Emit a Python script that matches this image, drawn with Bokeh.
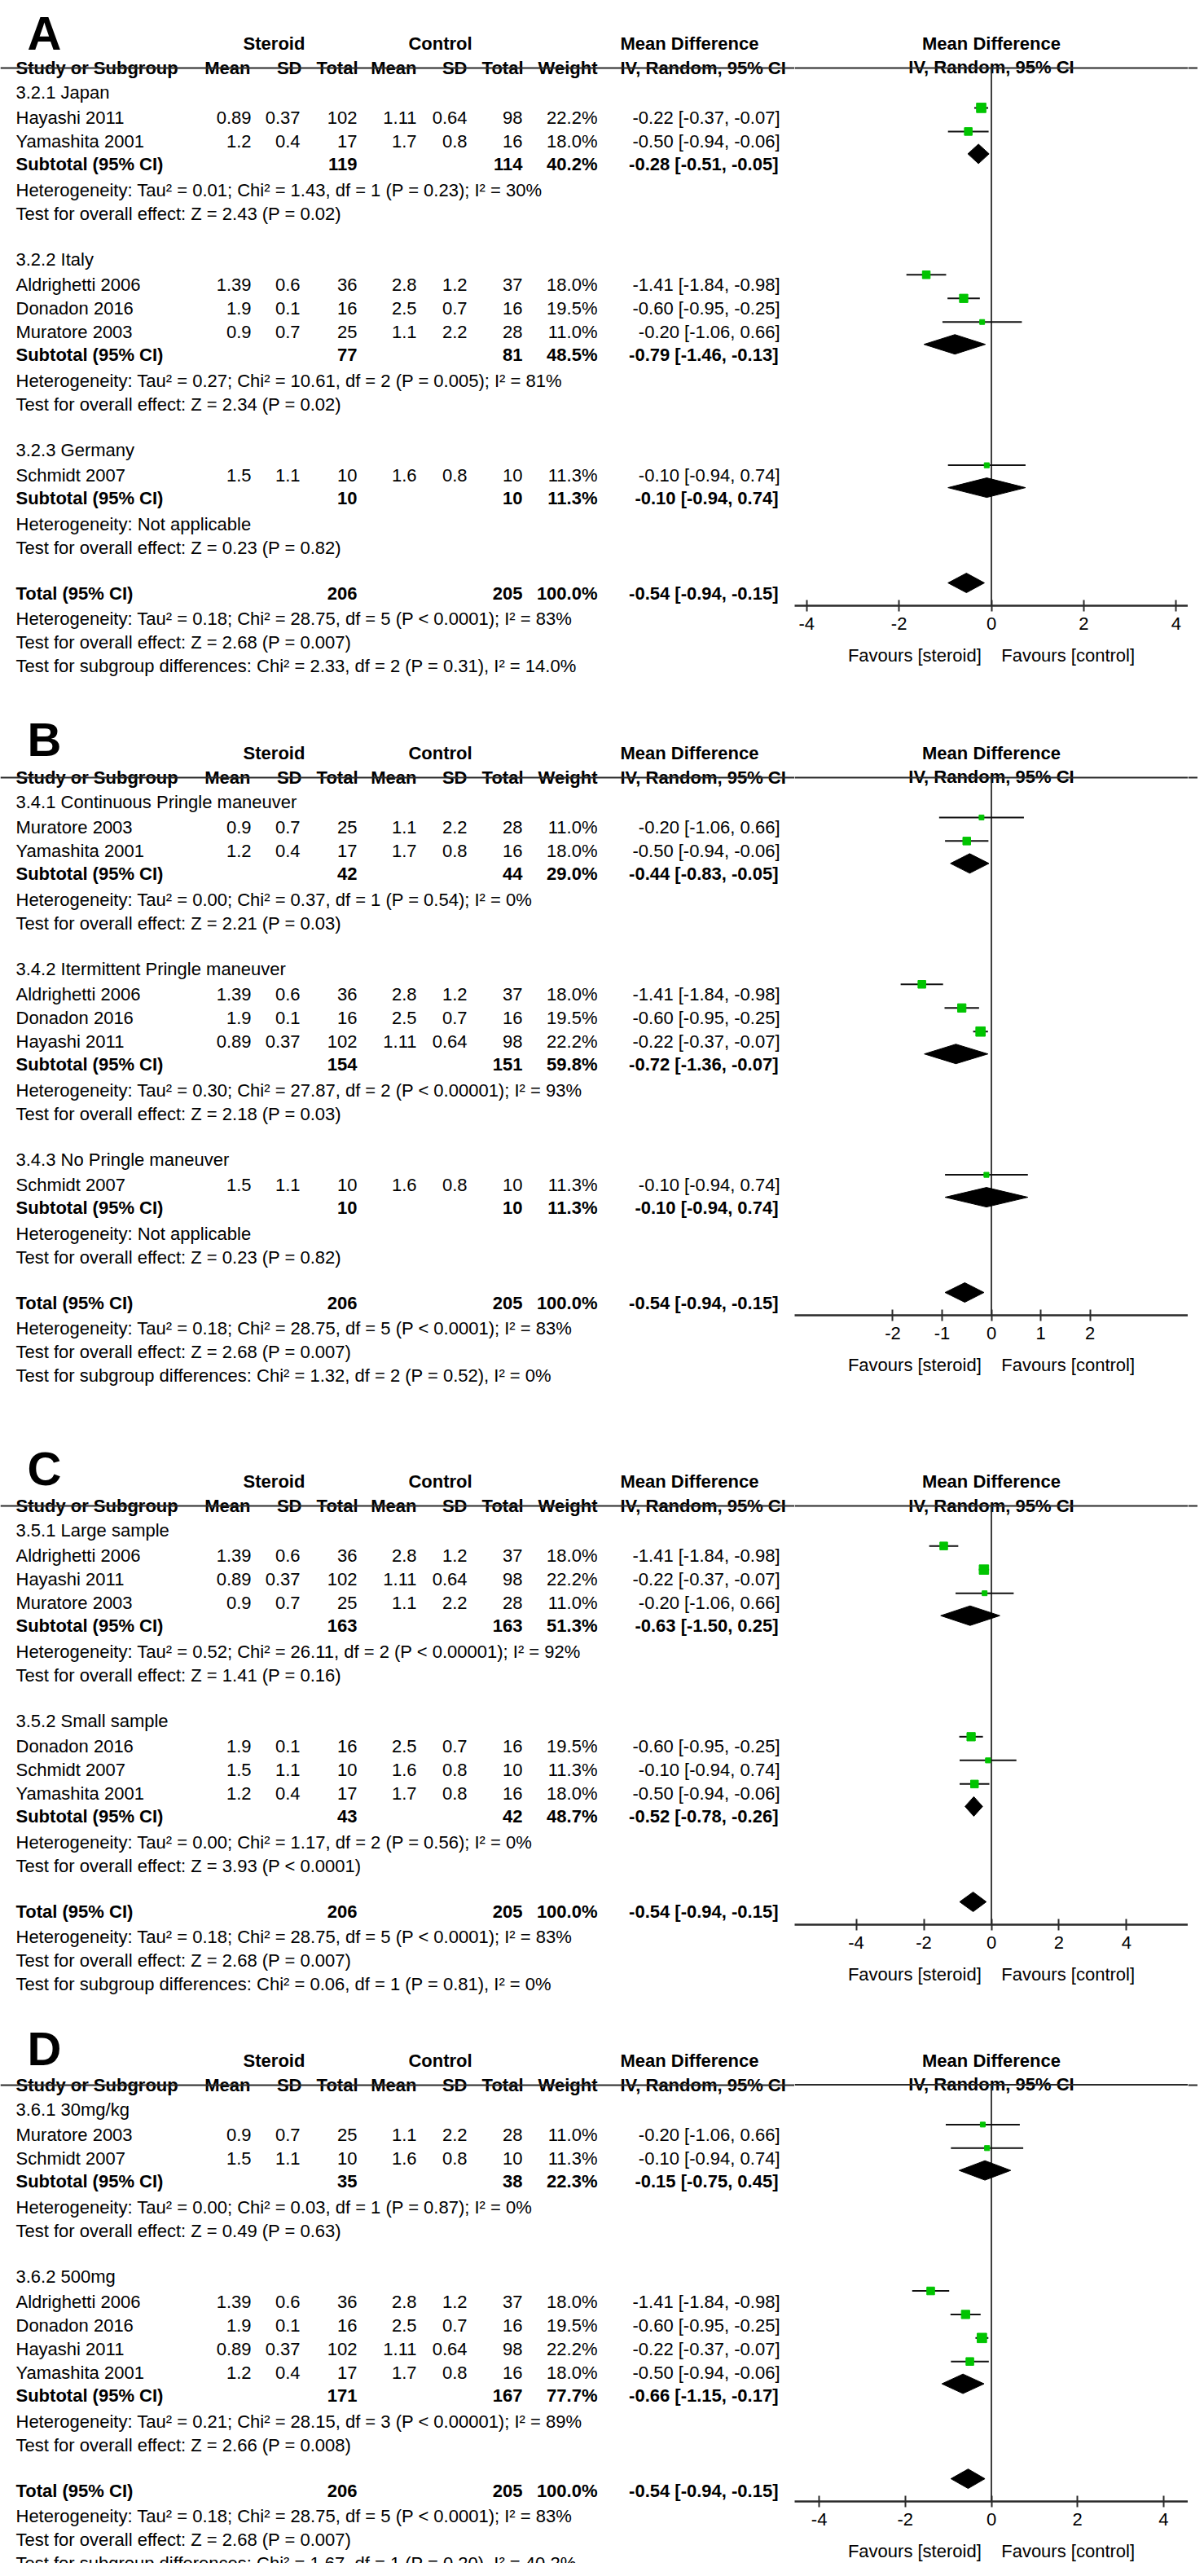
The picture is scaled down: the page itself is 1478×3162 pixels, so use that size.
from bokeh.plotting import figure
from bokeh.layouts import column, row
from bokeh.models import Range1d, FixedTicker, ColumnDataSource
from bokeh.core.properties import value
from bokeh.embed import file_html
from bokeh.resources import INLINE

# ---------------------------------------------------------------- data
study_names = ["Aldrighetti 2006", "Donadon 2016", "Hayashi 2011",
               "Muratore 2003", "Schmidt 2007", "Yamashita 2001"]
steroid_mean = [1.39, 1.9, 0.89, 0.9, 1.5, 1.2]
steroid_sd = [0.6, 0.1, 0.37, 0.7, 1.1, 0.4]
steroid_total = [36, 16, 102, 25, 10, 17]
control_mean = [2.8, 2.5, 1.11, 1.1, 1.6, 1.7]
control_sd = [1.2, 0.7, 0.64, 2.2, 0.8, 0.8]
control_total = [37, 16, 98, 28, 10, 16]
study_weight = [18.0, 19.5, 22.2, 11.0, 11.3, 18.0]
study_md = [-1.41, -0.60, -0.22, -0.20, -0.10, -0.50]
study_lo = [-1.84, -0.95, -0.37, -1.06, -0.94, -0.94]
study_hi = [-0.98, -0.25, -0.07, 0.66, 0.74, -0.06]

total_steroid = 206
total_control = 205
total_weight = 100.0
total_md = -0.54
total_lo = -0.94
total_hi = -0.15
total_het = "Heterogeneity: Tau² = 0.18; Chi² = 28.75, df = 5 (P < 0.0001); I² = 83%"
total_test = "Test for overall effect: Z = 2.68 (P = 0.007)"

# Panel A
a_groups = ["3.2.1 Japan", "3.2.2 Italy", "3.2.3 Germany"]
a_members = [["Hayashi 2011", "Yamashita 2001"],
             ["Aldrighetti 2006", "Donadon 2016", "Muratore 2003"],
             ["Schmidt 2007"]]
a_sub_steroid = [119, 77, 10]
a_sub_control = [114, 81, 10]
a_sub_weight = [40.2, 48.5, 11.3]
a_sub_md = [-0.28, -0.79, -0.10]
a_sub_lo = [-0.51, -1.46, -0.94]
a_sub_hi = [-0.05, -0.13, 0.74]
a_sub_het = ["Heterogeneity: Tau² = 0.01; Chi² = 1.43, df = 1 (P = 0.23); I² = 30%",
             "Heterogeneity: Tau² = 0.27; Chi² = 10.61, df = 2 (P = 0.005); I² = 81%",
             "Heterogeneity: Not applicable"]
a_sub_test = ["Test for overall effect: Z = 2.43 (P = 0.02)",
              "Test for overall effect: Z = 2.34 (P = 0.02)",
              "Test for overall effect: Z = 0.23 (P = 0.82)"]
a_diff = "Test for subgroup differences: Chi² = 2.33, df = 2 (P = 0.31), I² = 14.0%"
a_ticks = [-4, -2, 0, 2, 4]

# Panel B
b_groups = ["3.4.1 Continuous Pringle maneuver", "3.4.2 Itermittent Pringle maneuver",
            "3.4.3 No Pringle maneuver"]
b_members = [["Muratore 2003", "Yamashita 2001"],
             ["Aldrighetti 2006", "Donadon 2016", "Hayashi 2011"],
             ["Schmidt 2007"]]
b_sub_steroid = [42, 154, 10]
b_sub_control = [44, 151, 10]
b_sub_weight = [29.0, 59.8, 11.3]
b_sub_md = [-0.44, -0.72, -0.10]
b_sub_lo = [-0.83, -1.36, -0.94]
b_sub_hi = [-0.05, -0.07, 0.74]
b_sub_het = ["Heterogeneity: Tau² = 0.00; Chi² = 0.37, df = 1 (P = 0.54); I² = 0%",
             "Heterogeneity: Tau² = 0.30; Chi² = 27.87, df = 2 (P < 0.00001); I² = 93%",
             "Heterogeneity: Not applicable"]
b_sub_test = ["Test for overall effect: Z = 2.21 (P = 0.03)",
              "Test for overall effect: Z = 2.18 (P = 0.03)",
              "Test for overall effect: Z = 0.23 (P = 0.82)"]
b_diff = "Test for subgroup differences: Chi² = 1.32, df = 2 (P = 0.52), I² = 0%"
b_ticks = [-2, -1, 0, 1, 2]

# Panel C
c_groups = ["3.5.1 Large sample", "3.5.2 Small sample"]
c_members = [["Aldrighetti 2006", "Hayashi 2011", "Muratore 2003"],
             ["Donadon 2016", "Schmidt 2007", "Yamashita 2001"]]
c_sub_steroid = [163, 43]
c_sub_control = [163, 42]
c_sub_weight = [51.3, 48.7]
c_sub_md = [-0.63, -0.52]
c_sub_lo = [-1.50, -0.78]
c_sub_hi = [0.25, -0.26]
c_sub_het = ["Heterogeneity: Tau² = 0.52; Chi² = 26.11, df = 2 (P < 0.00001); I² = 92%",
             "Heterogeneity: Tau² = 0.00; Chi² = 1.17, df = 2 (P = 0.56); I² = 0%"]
c_sub_test = ["Test for overall effect: Z = 1.41 (P = 0.16)",
              "Test for overall effect: Z = 3.93 (P < 0.0001)"]
c_diff = "Test for subgroup differences: Chi² = 0.06, df = 1 (P = 0.81), I² = 0%"
c_ticks = [-4, -2, 0, 2, 4]

# Panel D
d_groups = ["3.6.1 30mg/kg", "3.6.2 500mg"]
d_members = [["Muratore 2003", "Schmidt 2007"],
             ["Aldrighetti 2006", "Donadon 2016", "Hayashi 2011", "Yamashita 2001"]]
d_sub_steroid = [35, 171]
d_sub_control = [38, 167]
d_sub_weight = [22.3, 77.7]
d_sub_md = [-0.15, -0.66]
d_sub_lo = [-0.75, -1.15]
d_sub_hi = [0.45, -0.17]
d_sub_het = ["Heterogeneity: Tau² = 0.00; Chi² = 0.03, df = 1 (P = 0.87); I² = 0%",
             "Heterogeneity: Tau² = 0.21; Chi² = 28.15, df = 3 (P < 0.00001); I² = 89%"]
d_sub_test = ["Test for overall effect: Z = 0.49 (P = 0.63)",
              "Test for overall effect: Z = 2.66 (P = 0.008)"]
d_diff = "Test for subgroup differences: Chi² = 1.67, df = 1 (P = 0.20), I² = 40.2%"
d_ticks = [-4, -2, 0, 2, 4]

panel_letters = ["A", "B", "C", "D"]

# ---------------------------------------------------------------- layout / style
FONT = "Liberation Sans"
FS = "22px"
TXT = "#000000"
LINE = "#2a2a2a"
GREEN = "#00c400"
LEFT_X0, LEFT_X1, FOREST_X1, PAGE_X1 = 0, 975, 1458, 1470

COL_STUDY = 19
COL_NUM = [308, 368, 438, 511, 573, 641]
COL_W = 733
COL_CI = 957
HDR_NUM = [307, 370, 439, 511, 573, 642]
HDR_LBL = ["Mean", "SD", "Total", "Mean", "SD", "Total"]
X_STEROID, X_CONTROL, X_MDHDR, X_LETTER = 336, 540, 761, 33

# top, bottom, header-line y, letter baseline, half-range of forest axis
PANELS_GEOM = [
    dict(top=8, bottom=845, line=91, letter=48, half=4.26),
    dict(top=845, bottom=1740, line=962, letter=915, half=3.99),
    dict(top=1740, bottom=2462, line=1856, letter=1810, half=5.82),
    dict(top=2462, bottom=3154, line=2567, letter=2522, half=4.57),
]

PANELS_DATA = [
    (a_groups, a_members, a_sub_steroid, a_sub_control, a_sub_weight, a_sub_md, a_sub_lo, a_sub_hi, a_sub_het, a_sub_test, a_diff, a_ticks),
    (b_groups, b_members, b_sub_steroid, b_sub_control, b_sub_weight, b_sub_md, b_sub_lo, b_sub_hi, b_sub_het, b_sub_test, b_diff, b_ticks),
    (c_groups, c_members, c_sub_steroid, c_sub_control, c_sub_weight, c_sub_md, c_sub_lo, c_sub_hi, c_sub_het, c_sub_test, c_diff, c_ticks),
    (d_groups, d_members, d_sub_steroid, d_sub_control, d_sub_weight, d_sub_md, d_sub_lo, d_sub_hi, d_sub_het, d_sub_test, d_diff, d_ticks),
]

BASE = 8  # cap-centre -> alphabetic baseline offset
MARK_DY = -4  # marks sit slightly above the text centre
DIAMOND_H = 12


def add_text(p, xs, ys, texts, align, bold=False, size=FS):
    if not texts:
        return
    src = ColumnDataSource(dict(x=list(xs), y=[y + BASE for y in ys], t=list(texts)))
    p.text(x="x", y="y", text="t", source=src, text_align=align,
           text_baseline="alphabetic", text_font=value(FONT),
           text_font_size=value(size),
           text_font_style="bold" if bold else "normal", text_color=TXT)


def fmt(v):
    return str(v)


def ci_text(m, lo, hi):
    return f"{m:.2f} [{lo:.2f}, {hi:.2f}]"


def base_fig(width, height, xr, yr, **kw):
    p = figure(width=width, height=height, x_range=xr, y_range=yr,
               output_backend="svg", toolbar_location=None,
               x_axis_location=kw.pop("x_axis_location", None), y_axis_location=None,
               min_border_left=0, min_border_right=0, min_border_top=0,
               min_border_bottom=kw.pop("min_border_bottom", 0),
               outline_line_color=None, background_fill_color="white",
               border_fill_color="white", frame_align=False, **kw)
    p.grid.grid_line_color = None
    return p


def build_panel(letter, geom, pdata):
    (groups, members, sub_s, sub_c, sub_w, sub_md, sub_lo, sub_hi,
     sub_het, sub_test, diff, ticks) = pdata
    top, bottom, ly = geom["top"], geom["bottom"], geom["line"]
    H = bottom - top

    # ---- row positions
    group_y, study_rows, sub_y, het_y, test_y = [], [], [], [], []
    y = ly + 22
    last_test = None
    for gi, mem in enumerate(members):
        if gi > 0:
            y = last_test + 56.5
        group_y.append(y)
        ys = [y + 31 + 29 * k for k in range(len(mem))]
        study_rows.append(list(zip(mem, ys)))
        s = ys[-1] + 27.5
        sub_y.append(s)
        het_y.append(s + 32)
        last_test = s + 32 + 29
        test_y.append(last_test)
    tot_y = last_test + 56
    tot_het_y = tot_y + 31.5
    tot_test_y = tot_het_y + 29
    diff_y = tot_test_y + 29
    axis_y = tot_y + 24

    # ---- left table figure
    L = base_fig(LEFT_X1 - LEFT_X0, H, Range1d(LEFT_X0, LEFT_X1), Range1d(bottom, top))
    src = ColumnDataSource(dict(x=[X_LETTER], y=[geom["letter"]], t=[letter]))
    L.text(x="x", y="y", text="t", source=src, text_align="left", text_baseline="alphabetic",
           text_font=value(FONT), text_font_size=value("58px"), text_font_style="bold",
           text_color=TXT)
    add_text(L, [X_STEROID, X_CONTROL], [ly - 38, ly - 38], ["Steroid", "Control"], "center", True)
    add_text(L, [COL_STUDY, X_MDHDR], [ly - 8.5, ly - 8.5], ["Study or Subgroup", "IV, Random, 95% CI"], "left", True)
    add_text(L, [X_MDHDR], [ly - 38], ["Mean Difference"], "left", True)
    add_text(L, HDR_NUM + [COL_W], [ly - 8.5] * 7, HDR_LBL + ["Weight"], "right", True)
    L.segment(x0=[LEFT_X0], y0=[ly], x1=[LEFT_X1], y1=[ly], line_color=LINE, line_width=2)

    add_text(L, [COL_STUDY] * len(groups), group_y, groups, "left")
    # study rows
    nx, ny, nt = [], [], []
    sx_, sy_, st_ = [], [], []
    for rows in study_rows:
        for name, yy in rows:
            i = study_names.index(name)
            sx_.append(COL_STUDY); sy_.append(yy); st_.append(name)
            vals = [steroid_mean[i], steroid_sd[i], steroid_total[i],
                    control_mean[i], control_sd[i], control_total[i]]
            for cx, v in zip(COL_NUM, vals):
                nx.append(cx); ny.append(yy); nt.append(fmt(v))
            nx.append(COL_W); ny.append(yy); nt.append(f"{study_weight[i]:.1f}%")
            nx.append(COL_CI); ny.append(yy); nt.append(ci_text(study_md[i], study_lo[i], study_hi[i]))
    add_text(L, sx_, sy_, st_, "left")
    add_text(L, nx, ny, nt, "right")
    # subtotal + total rows (bold)
    bx, by, bt = [], [], []
    lx, lyy, lt = [], [], []
    for k in range(len(groups)):
        lx.append(COL_STUDY); lyy.append(sub_y[k]); lt.append("Subtotal (95% CI)")
        bx += [COL_NUM[2], COL_NUM[5], COL_W, COL_CI - 2]
        by += [sub_y[k]] * 4
        bt += [fmt(sub_s[k]), fmt(sub_c[k]), f"{sub_w[k]:.1f}%", ci_text(sub_md[k], sub_lo[k], sub_hi[k])]
    lx.append(COL_STUDY); lyy.append(tot_y); lt.append("Total (95% CI)")
    bx += [COL_NUM[2], COL_NUM[5], COL_W, COL_CI - 2]
    by += [tot_y] * 4
    bt += [fmt(total_steroid), fmt(total_control), f"{total_weight:.1f}%", ci_text(total_md, total_lo, total_hi)]
    add_text(L, lx, lyy, lt, "left", True)
    add_text(L, bx, by, bt, "right", True)
    # heterogeneity / tests
    add_text(L, [COL_STUDY] * (2 * len(groups) + 3),
             het_y + test_y + [tot_het_y, tot_test_y, diff_y],
             sub_het + sub_test + [total_het, total_test, diff], "left")

    # ---- forest figure
    half = geom["half"]
    F = base_fig(FOREST_X1 - LEFT_X1, H, Range1d(-half, half), Range1d(axis_y, top),
                 x_axis_location="below", min_border_bottom=int(round(bottom - axis_y)))
    ax = F.xaxis[0]
    ax.ticker = FixedTicker(ticks=ticks)
    ax.major_label_overrides = {t: str(t) for t in ticks}
    ax.axis_line_color = LINE
    ax.axis_line_width = 2.5
    ax.major_tick_line_color = LINE
    ax.major_tick_line_width = 2
    ax.major_tick_in = 7
    ax.major_tick_out = 7
    ax.minor_tick_line_color = None
    ax.major_label_text_font = FONT
    ax.major_label_text_font_size = FS
    ax.major_label_text_color = TXT
    ax.major_label_standoff = 7
    ax.axis_label = "Favours [steroid]\u00a0\u00a0\u00a0\u00a0Favours [control]"
    ax.axis_label_text_font = FONT
    ax.axis_label_text_font_size = FS
    ax.axis_label_text_font_style = "normal"
    ax.axis_label_text_color = TXT
    ax.axis_label_standoff = 16

    add_text(F, [0, 0], [ly - 38, ly - 8.5], ["Mean Difference", "IV, Random, 95% CI"], "center", True)
    F.segment(x0=[-half], y0=[ly], x1=[half], y1=[ly], line_color=LINE, line_width=2)
    F.segment(x0=[0], y0=[ly], x1=[0], y1=[axis_y], line_color=LINE, line_width=1.8)

    # studies
    mx, my, mlo, mhi, msz = [], [], [], [], []
    for rows in study_rows:
        for name, yy in rows:
            i = study_names.index(name)
            mx.append(study_md[i]); my.append(yy + MARK_DY)
            mlo.append(study_lo[i]); mhi.append(study_hi[i])
            msz.append(study_weight[i] * 0.5 + 0.5)
    ms = ColumnDataSource(dict(x=mx, y=my, lo=mlo, hi=mhi, s=msz))
    F.segment(x0="lo", y0="y", x1="hi", y1="y", source=ms, line_color="#111111", line_width=2)
    F.scatter(x="x", y="y", size="s", marker="square", source=ms,
              fill_color=GREEN, line_color=GREEN, line_width=1)
    # diamonds
    dxs, dys = [], []
    for k in range(len(groups)):
        yy = sub_y[k] + MARK_DY
        dxs.append([sub_lo[k], sub_md[k], sub_hi[k], sub_md[k]])
        dys.append([yy, yy - DIAMOND_H, yy, yy + DIAMOND_H])
    yy = tot_y + MARK_DY
    dxs.append([total_lo, total_md, total_hi, total_md])
    dys.append([yy, yy - DIAMOND_H, yy, yy + DIAMOND_H])
    F.patches(xs=dxs, ys=dys, fill_color="#000000", line_color="#000000", line_width=1)

    # ---- right sliver (header line continues to the edge)
    R = base_fig(PAGE_X1 - FOREST_X1, H, Range1d(0, PAGE_X1 - FOREST_X1), Range1d(bottom, top))
    R.segment(x0=[0], y0=[ly], x1=[PAGE_X1 - FOREST_X1], y1=[ly], line_color=LINE, line_width=2)

    return row(L, F, R)


panels = [build_panel(l, g, d) for l, g, d in zip(panel_letters, PANELS_GEOM, PANELS_DATA)]
p = column(*panels)

open("out.html", "w").write(file_html(p, INLINE))
